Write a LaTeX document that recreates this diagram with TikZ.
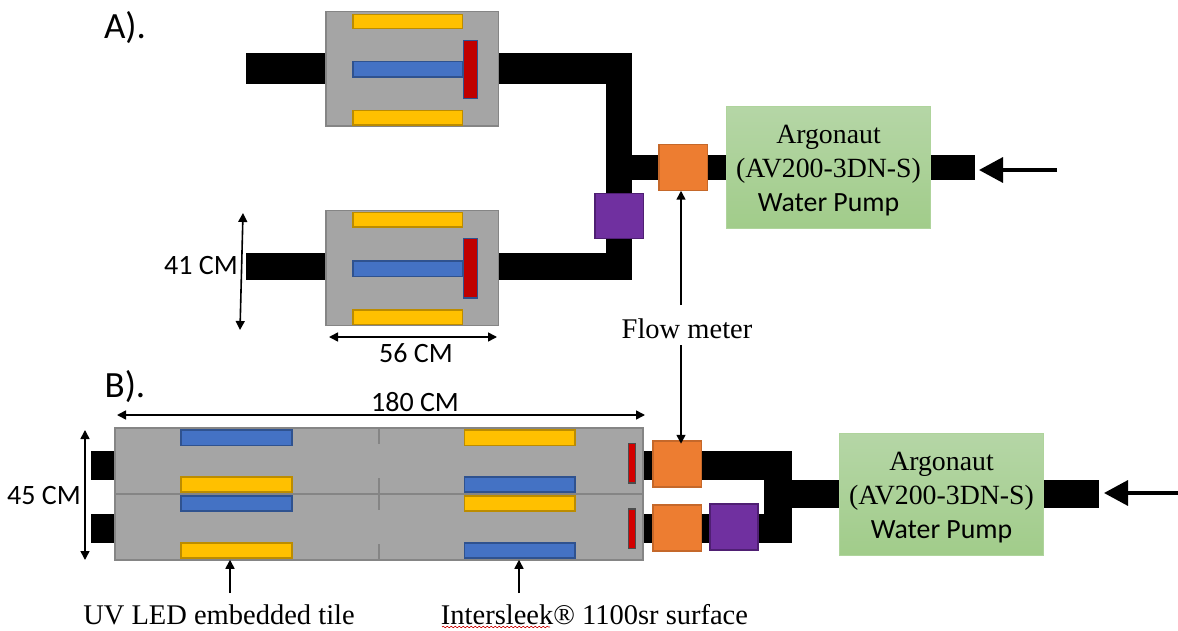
\documentclass[tikz,border=0pt]{standalone}
\usepackage{fontspec}
\setmainfont{Liberation Serif}
\newfontfamily\calib{Carlito}
\usetikzlibrary{arrows.meta,backgrounds,decorations.pathmorphing}
\definecolor{tilegray}{HTML}{A5A5A5}
\definecolor{tileedge}{HTML}{858585}
\definecolor{ledyellow}{HTML}{FFC000}
\definecolor{ledyedge}{HTML}{BC8C00}
\definecolor{surfblue}{HTML}{4472C4}
\definecolor{surfedge}{HTML}{2F528F}
\definecolor{lampred}{HTML}{C00000}
\definecolor{meterorange}{HTML}{ED7D31}
\definecolor{meteredge}{HTML}{C5682A}
\definecolor{valvepurple}{HTML}{7030A0}
\definecolor{valveedge}{HTML}{4F1F73}
\definecolor{pumptop}{HTML}{B5D6A6}
\definecolor{pumpbot}{HTML}{A1CC8A}
\newcommand{\bx}[7]{%
  \pgfmathsetmacro{\cxv}{(#3+#5)/2}\pgfmathsetmacro{\cyv}{(#4+#6)/2}%
  \pgfmathsetmacro{\wv}{#5-#3-1.5}\pgfmathsetmacro{\hv}{#6-#4-1.5}%
  \node[#2,minimum width=\wv pt,minimum height=\hv pt] (#1) at (\cxv,\cyv) {#7};}
\tikzset{
  base/.style={inner sep=0pt,outer sep=0pt,rectangle},
  tile/.style={base,fill=tilegray,draw=tileedge,line width=1.5pt},
  led/.style={base,fill=ledyellow,draw=ledyedge,line width=1.5pt},
  surf/.style={base,fill=surfblue,draw=surfedge,line width=1.5pt},
  lamp/.style={base,fill=lampred,draw=surfedge,line width=1.5pt},
  lampb/.style={base,fill=lampred!70!red,draw=black!70,line width=1.5pt},
  meter/.style={base,fill=meterorange,draw=meteredge,line width=1.5pt},
  valve/.style={base,fill=valvepurple,draw=valveedge,line width=1.5pt},
  pump/.style={base,top color=pumptop,bottom color=pumpbot,draw=pumpbot!85!white,line width=.6pt,
     align=center,font=\fontsize{27.8}{34}\selectfont},
  pipe/.style={line width=#1,black,line cap=butt},
  lab/.style={base,font=\calib\fontsize{28}{30}\selectfont},
  serif/.style={base,font=\fontsize{28.5}{31}\selectfont},
  dim/.style={line width=1.6pt,{Triangle[length=9pt,width=9pt]}-{Triangle[length=9pt,width=9pt]}},
  ptr/.style={line width=1.6pt,-{Triangle[length=9pt,width=9pt]}},
  inflow/.style={line width=3.5pt,-{Triangle[length=24pt,width=25pt]}},
  tick/.style={line width=2.5pt,tileedge},
}
\begin{document}
\begin{tikzpicture}[x=1pt,y=-1pt]
\useasboundingbox (0,0) rectangle (1178,631);
% ---- A: upper tile
\bx{aone}{tile}{325}{11}{499}{127}{}
\bx{aoneyt}{led}{352}{14}{463}{29.5}{}
\bx{aoneyb}{led}{352}{110}{463}{126}{}
\bx{aoneblue}{surf}{352}{61}{463}{78}{}
\bx{aonered}{lamp}{462.5}{40}{478}{99.5}{}
% ---- A: lower tile
\bx{atwo}{tile}{325}{210}{499}{326}{}
\bx{atwoyt}{led}{352}{212}{463}{228}{}
\bx{atwoyb}{led}{352}{309}{463}{325}{}
\bx{atwoblue}{surf}{352}{260}{463}{277}{}
\bx{atwored}{lamp}{462.5}{238}{478}{298.5}{}
\bx{avalve}{valve}{594}{193}{644}{239.5}{}
\bx{ameter}{meter}{658}{144}{708}{191.5}{}
\bx{apump}{pump}{726}{106}{931}{229}{\rule{0pt}{25pt}Argonaut\\(AV200-3DN-S)\\{\calib Water Pump}}
% ---- B: tiles
\bx{bone}{tile}{114}{427}{643.5}{494.5}{}
\bx{btwo}{tile}{114}{493}{643.5}{560.5}{}
\bx{bonea}{surf}{180}{429}{292.5}{446}{}
\bx{boneb}{led}{180}{476}{292.5}{492.5}{}
\bx{btwoa}{surf}{180}{495}{292.5}{511.5}{}
\bx{btwob}{led}{180}{542}{292.5}{558.5}{}
\bx{bonec}{led}{463.5}{429}{575.5}{446}{}
\bx{boned}{surf}{463.5}{476}{575.5}{492.5}{}
\bx{btwoc}{led}{463.5}{495}{575.5}{511.5}{}
\bx{btwod}{surf}{463.5}{542}{575.5}{558.5}{}
\bx{bonered}{lampb}{627.5}{442.5}{636}{483.5}{}
\bx{btwored}{lampb}{627.5}{508}{636}{549}{}
\bx{bmeterone}{meter}{652}{440}{702}{487.5}{}
\bx{bmetertwo}{meter}{652}{504}{702}{551.5}{}
\bx{bvalve}{valve}{709}{503}{758.5}{550.5}{}
\bx{bpump}{pump}{839}{433}{1044}{556}{\rule{0pt}{25pt}Argonaut\\(AV200-3DN-S)\\{\calib Water Pump}}
% ---- free ends of the pipes
\coordinate (ainone) at (246,68.5);
\coordinate (aintwo) at (246,266.5);
\coordinate (acornone) at (632,68.5);
\coordinate (acorntwo) at (632,266.5);
\coordinate (avtop) at (619,53);
\coordinate (avbot) at (619,280);
\coordinate (ajoin) at (619,167.5);
\coordinate (aout) at (975,167.5);
\coordinate (binone) at (91,465.5);
\coordinate (bintwo) at (91,528.5);
\coordinate (bcornone) at (792,465.5);
\coordinate (bcorntwo) at (792,528.5);
\coordinate (bvt) at (778,451);
\coordinate (bvb) at (778,543);
\coordinate (bjoin) at (778,494);
\coordinate (bout) at (1099,494);
\begin{scope}[on background layer]
\draw[pipe=31pt] (ainone) -- (aone.west |- ainone);
\draw[pipe=31pt] (aone.east |- ainone) -- (acornone);
\draw[pipe=27pt] (aintwo) -- (atwo.west |- aintwo);
\draw[pipe=27pt] (atwo.east |- aintwo) -- (acorntwo);
\draw[pipe=26pt] (avtop) -- (avbot);
\draw[pipe=25pt] (ajoin) -- (apump.west |- ajoin);
\draw[pipe=25pt] (apump.east |- ajoin) -- (aout);
\draw[pipe=29pt] (binone) -- (bone.west |- binone);
\draw[pipe=29pt] (bintwo) -- (btwo.west |- bintwo);
\draw[pipe=29pt] (bone.east |- binone) -- (bcornone);
\draw[pipe=29pt] (btwo.east |- bintwo) -- (bcorntwo);
\draw[pipe=28pt] (bvt) -- (bvb);
\draw[pipe=28pt] (bjoin) -- (bpump.west |- bjoin);
\draw[pipe=28pt] (bpump.east |- bjoin) -- (bout);
\end{scope}
% ---- tile join marks
\draw[tick] (bone.north) -- ++(0,16);
\draw[tick] (bone.south) -- ++(0,-16);
\draw[tick] (btwo.north) -- ++(0,16);
\draw[tick] (btwo.south) -- ++(0,-16);
% ---- labels
\node[lab,font=\calib\fontsize{37}{39}\selectfont] (lA) at (125,28) {A).};
\node[lab,font=\calib\fontsize{37}{39}\selectfont] (lB) at (125,387) {B).};
\node[lab] (lfortyone) at (201,266) {41 CM};
\node[lab] (lfiftysix) at (416,353) {56 CM};
\node[lab] (loneeighty) at (415,402) {180 CM};
\node[lab] (lfortyfive) at (44,496) {45 CM};
\node[serif] (lflow) at (687,329) {Flow meter};
\node[serif] (luv) at (219,615) {UV LED embedded tile};
\node[serif] (lsleek) at (594.5,615) {Intersleek® 1100sr surface};
% ---- dimension arrows
\coordinate (dat) at (243,213); \coordinate (dab) at (240,330);
\draw[dim] (dab) -- (dat);
\coordinate (dbl) at (329,337); \coordinate (dbr) at (497,337);
\draw[dim] (dbl) -- (dbr);
\coordinate (dcl) at (117,415); \coordinate (dcr) at (645,415);
\draw[dim] (dcl) -- (dcr);
\coordinate (ddt) at (85,430); \coordinate (ddb) at (85,560);
\draw[dim] (ddt) -- (ddb);
% ---- pointers
\draw[ptr] (681,305) coordinate (fa) -- (ameter.south -| fa);
\coordinate (fb) at (681,345);
\draw[ptr] (fb) -- ([yshift=-3pt]bmeterone.north -| fb);
\draw[ptr] (230,593) coordinate (ua) -- (btwo.south -| ua);
\draw[ptr] (519,593) coordinate (ia) -- (btwo.south -| ia);
\coordinate (ainflow) at (1057,170);
\coordinate (ainend) at (979,170);
\draw[inflow] (ainflow) -- (ainend);
\coordinate (binflow) at (1178,493);
\coordinate (binend) at (1104,493);
\draw[inflow] (binflow) -- (binend);
% ---- spell-check squiggle under the word
\coordinate (sql) at (442,627); \coordinate (sqr) at (550,627);
\draw[red!80!black,line width=.6pt,decorate,decoration={snake,amplitude=.8pt,segment length=4pt}] (sql) -- (sqr);
\end{tikzpicture}
\end{document}
